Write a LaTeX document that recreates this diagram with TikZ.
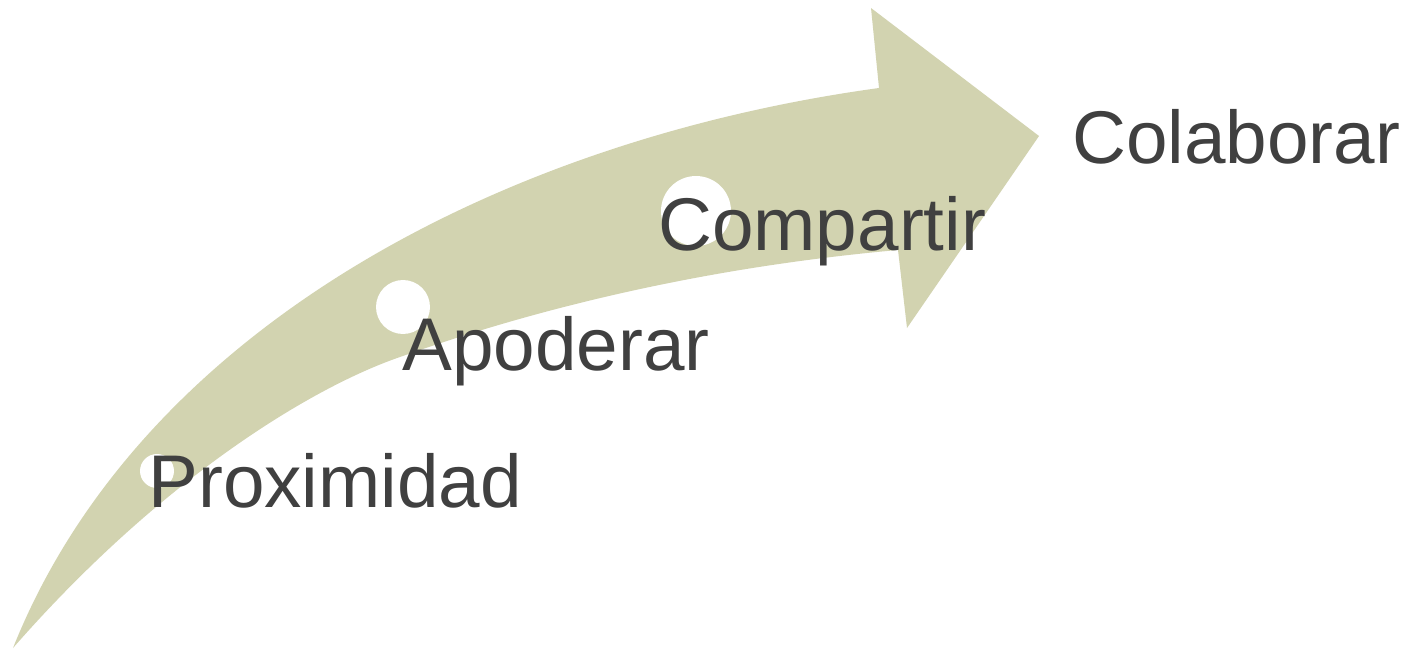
\documentclass[tikz,border=0pt]{standalone}
\usepackage{fontspec}
\setmainfont{Liberation Sans}
\definecolor{arrowfill}{RGB}{210,211,176}
\definecolor{labelgray}{RGB}{64,64,64}
\tikzset{
  stage/.style={font=\fontsize{42.5}{50}\selectfont, text=labelgray, inner sep=0pt, anchor=base west},
  dot/.style={circle, fill=white, inner sep=0pt, minimum size=#1}
}

\begin{document}
\begin{tikzpicture}[x=0.02cm, y=-0.02cm]
        \useasboundingbox (0,0) rectangle (1405,649);

        % Arrow
        \fill[arrowfill] (13,648) .. controls (140,330) and (500,140) .. (879,88)
          -- (871,8) -- (1039,136) -- (907,328) -- (898,250)
          .. controls (730,265) and (560,300) .. (400,357)
          .. controls (310,388) and (160,480) .. (13,648) -- cycle;

        % Circles
        \node[dot=0.68cm] (dotProx) at (157,471) {};
        \node[dot=1.08cm] (dotApod) at (403,307) {};
        \node[dot=1.4cm] (dotComp) at (696,211) {};

        % Labels
        \node[stage] (proximidad) at (148,507) {Proximidad};
        \node[stage] (apoderar) at (402,370) {Apoderar};
        \node[stage] (compartir) at (658,250) {Compartir};
        \node[stage] (colaborar) at (1072,163) {Colaborar};
\end{tikzpicture}
\end{document}
